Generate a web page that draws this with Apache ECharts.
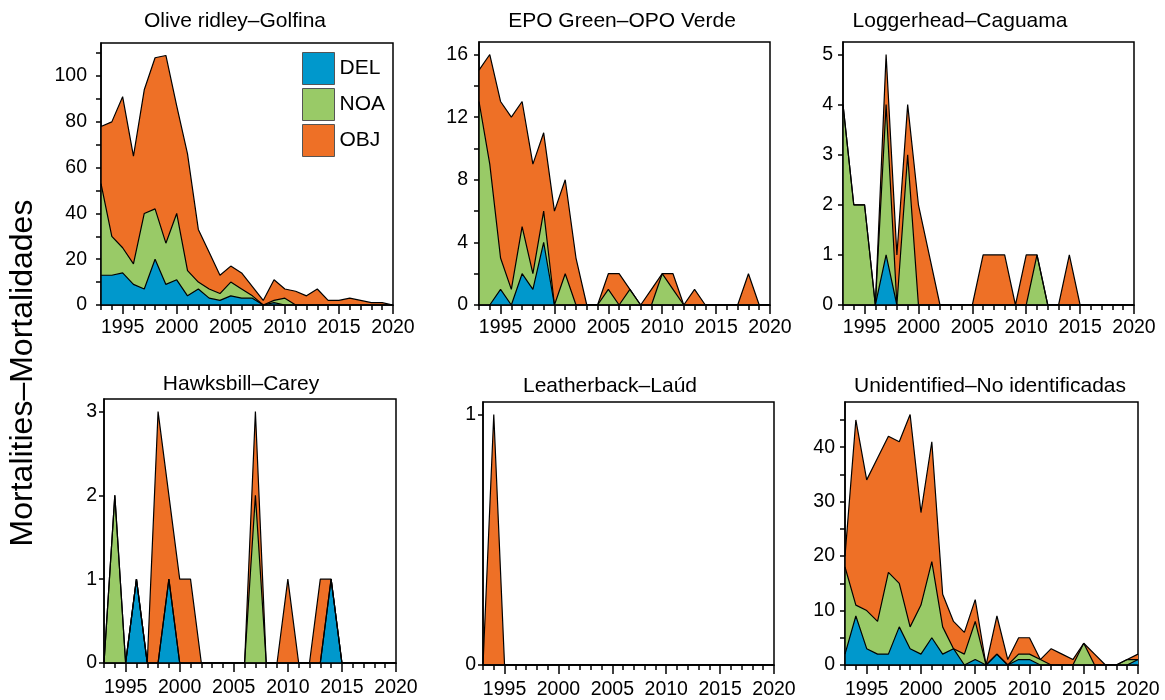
<!DOCTYPE html>
<html>
<head>
<meta charset="utf-8">
<script src="https://cdn.jsdelivr.net/npm/echarts@6/dist/echarts.min.js"></script>
<style>
html, body { margin: 0; padding: 0; background: #fff; }
#main { width: 1165px; height: 700px; }
</style>
</head>
<body>
<div id="main"></div>
<script>
// years on the x axis
var years = [1993, 1994, 1995, 1996, 1997, 1998, 1999, 2000, 2001, 2002, 2003, 2004, 2005, 2006,
             2007, 2008, 2009, 2010, 2011, 2012, 2013, 2014, 2015, 2016, 2017, 2018, 2019, 2020];
var yearLabels = [1995, 2000, 2005, 2010, 2015, 2020];

// Olive ridley - Golfina
var oliveDEL = [13, 13, 14, 9, 7, 20, 9, 11, 4, 7, 3, 2, 4, 3, 3, 0, 1, 0, 0, 0, 0, 0, 0, 0, 0, 0, 0, 0];
var oliveNOA = [40, 17, 11, 9, 33, 22, 18, 29, 11, 3, 4, 3, 6, 4, 1, 0, 1, 3, 0, 0, 0, 0, 0, 0, 0, 0, 0, 0];
var oliveOBJ = [25, 50, 66, 47, 54, 66, 82, 47, 51, 23, 16, 8, 7, 7, 4, 2, 9, 4, 6, 4, 7, 2, 2, 3, 2, 1, 1, 0];
var oliveTicks = [0, 10, 20, 30, 40, 50, 60, 70, 80, 90, 100, 110];
var oliveLabels = [0, 20, 40, 60, 80, 100];

// EPO Green - OPO Verde
var greenDEL = [0, 0, 1, 0, 2, 1, 4, 0, 0, 0, 0, 0, 0, 0, 0, 0, 0, 0, 0, 0, 0, 0, 0, 0, 0, 0, 0, 0];
var greenNOA = [13, 9, 2, 1, 3, 1, 2, 0, 2, 0, 0, 0, 1, 0, 1, 0, 0, 2, 1, 0, 0, 0, 0, 0, 0, 0, 0, 0];
var greenOBJ = [2, 7, 10, 11, 8, 7, 5, 6, 6, 3, 0, 0, 1, 2, 0, 0, 1, 0, 1, 0, 1, 0, 0, 0, 0, 2, 0, 0];
var greenTicks = [0, 2, 4, 6, 8, 10, 12, 14, 16];
var greenLabels = [0, 4, 8, 12, 16];

// Loggerhead - Caguama
var loggerDEL = [0, 0, 0, 0, 1, 0, 0, 0, 0, 0, 0, 0, 0, 0, 0, 0, 0, 0, 0, 0, 0, 0, 0, 0, 0, 0, 0, 0];
var loggerNOA = [4, 2, 2, 0, 3, 0, 3, 0, 0, 0, 0, 0, 0, 0, 0, 0, 0, 0, 1, 0, 0, 0, 0, 0, 0, 0, 0, 0];
var loggerOBJ = [0, 0, 0, 0, 1, 1, 1, 2, 1, 0, 0, 0, 0, 1, 1, 1, 0, 1, 0, 0, 0, 1, 0, 0, 0, 0, 0, 0];
var loggerTicks = [0, 1, 2, 3, 4, 5];
var loggerLabels = [0, 1, 2, 3, 4, 5];

// Hawksbill - Carey
var hawkDEL = [0, 0, 0, 1, 0, 0, 1, 0, 0, 0, 0, 0, 0, 0, 0, 0, 0, 0, 0, 0, 0, 1, 0, 0, 0, 0, 0, 0];
var hawkNOA = [0, 2, 0, 0, 0, 0, 0, 0, 0, 0, 0, 0, 0, 0, 2, 0, 0, 0, 0, 0, 0, 0, 0, 0, 0, 0, 0, 0];
var hawkOBJ = [0, 0, 0, 0, 0, 3, 1, 1, 1, 0, 0, 0, 0, 0, 1, 0, 0, 1, 0, 0, 1, 0, 0, 0, 0, 0, 0, 0];
var hawkTicks = [0, 1, 2, 3];
var hawkLabels = [0, 1, 2, 3];

// Leatherback - Laúd
var leatherDEL = [0, 0, 0, 0, 0, 0, 0, 0, 0, 0, 0, 0, 0, 0, 0, 0, 0, 0, 0, 0, 0, 0, 0, 0, 0, 0, 0, 0];
var leatherNOA = [0, 0, 0, 0, 0, 0, 0, 0, 0, 0, 0, 0, 0, 0, 0, 0, 0, 0, 0, 0, 0, 0, 0, 0, 0, 0, 0, 0];
var leatherOBJ = [0, 1, 0, 0, 0, 0, 0, 0, 0, 0, 0, 0, 0, 0, 0, 0, 0, 0, 0, 0, 0, 0, 0, 0, 0, 0, 0, 0];
var leatherTicks = [0, 1];
var leatherLabels = [0, 1];

// Unidentified - No identificadas
var unidDEL = [2, 9, 3, 2, 2, 7, 3, 2, 5, 2, 3, 0, 1, 0, 2, 0, 1, 1, 0, 0, 0, 0, 0, 0, 0, 0, 0, 1];
var unidNOA = [16, 2, 7, 6, 15, 8, 4, 9, 14, 5, 0, 2, 7, 0, 0, 0, 1, 1, 1, 0, 0, 0, 4, 0, 0, 0, 1, 0];
var unidOBJ = [2, 34, 24, 30, 25, 26, 39, 17, 22, 6, 5, 4, 4, 0, 7, 1, 3, 3, 0, 3, 2, 1, 0, 2, 0, 0, 0, 1];
var unidTicks = [0, 5, 10, 15, 20, 25, 30, 35, 40, 45];
var unidLabels = [0, 10, 20, 30, 40];

var gearNames = ['DEL', 'NOA', 'OBJ'];
var gearColors = ['#0098cc', '#99ca67', '#ee7026'];
var FONT = '"Liberation Sans", Arial, sans-serif';

var panels = [
    { title: 'Olive ridley\u2013Golfina', del: oliveDEL, noa: oliveNOA, obj: oliveOBJ, ticks: oliveTicks, labels: oliveLabels,
      grid: [101, 43, 292, 262], tx: 235, ty: 11, margin: 14 },
    { title: 'EPO Green\u2013OPO Verde', del: greenDEL, noa: greenNOA, obj: greenOBJ, ticks: greenTicks, labels: greenLabels,
      grid: [479, 42, 291, 263], tx: 622, ty: 11, margin: 11 },
    { title: 'Loggerhead\u2013Caguama', del: loggerDEL, noa: loggerNOA, obj: loggerOBJ, ticks: loggerTicks, labels: loggerLabels,
      grid: [843, 42, 291, 263], tx: 960, ty: 11, margin: 10 },
    { title: 'Hawksbill\u2013Carey', del: hawkDEL, noa: hawkNOA, obj: hawkOBJ, ticks: hawkTicks, labels: hawkLabels,
      grid: [104, 399, 292, 264], tx: 241, ty: 374, margin: 7 },
    { title: 'Leatherback\u2013La\u00fad', del: leatherDEL, noa: leatherNOA, obj: leatherOBJ, ticks: leatherTicks, labels: leatherLabels,
      grid: [483, 402, 291, 264], tx: 610, ty: 376, margin: 7 },
    { title: 'Unidentified\u2013No identificadas', del: unidDEL, noa: unidNOA, obj: unidOBJ, ticks: unidTicks, labels: unidLabels,
      grid: [845, 402, 293, 263], tx: 990, ty: 376, margin: 10 }
];

function plain(v) { return String(v); }

var grids = [], xAxes = [], yAxes = [], series = [], titles = [];

panels.forEach(function (p, i) {
    grids.push({
        left: p.grid[0], top: p.grid[1], width: p.grid[2], height: p.grid[3],
        show: true, borderColor: '#000', borderWidth: 1.5, backgroundColor: 'transparent'
    });
    // year axis: short tick every year, labels every 5
    xAxes.push({
        type: 'value', gridIndex: i, min: 1993, max: 2020, position: 'bottom', z: 10,
        axisLine: { show: true, lineStyle: { color: '#000', width: 1.5 } },
        axisTick: { show: true, length: 5, customValues: years, lineStyle: { color: '#000', width: 1.5 } },
        axisLabel: { customValues: yearLabels, formatter: plain, margin: i < 3 ? 13 : 15,
                     color: '#000', fontSize: 19.5, fontFamily: FONT },
        splitLine: { show: false }
    });
    // longer ticks at the labelled years
    xAxes.push({
        type: 'value', gridIndex: i, min: 1993, max: 2020, position: 'bottom', z: 10,
        axisLine: { show: false },
        axisTick: { show: true, length: 9, customValues: yearLabels, lineStyle: { color: '#000', width: 1.5 } },
        axisLabel: { show: false },
        splitLine: { show: false }
    });

    // stacked layers: DEL at the bottom, then NOA, then OBJ on top
    var layer1 = [], layer2 = [], layer3 = [];
    var maxTotal = 0;
    years.forEach(function (y, k) {
        var a = p.del[k], b = a + p.noa[k], c = b + p.obj[k];
        layer1.push([y, a]);
        layer2.push([y, b]);
        layer3.push([y, c]);
        maxTotal = Math.max(maxTotal, c);
    });
    yAxes.push({
        type: 'value', gridIndex: i, min: 0, max: maxTotal * 1.05, z: 10,
        axisLine: { show: true, lineStyle: { color: '#000', width: 1.5 } },
        axisTick: { show: true, length: 5, customValues: p.ticks, lineStyle: { color: '#000', width: 1.5 } },
        axisLabel: { customValues: p.labels, formatter: plain, margin: p.margin,
                     color: '#000', fontSize: 19.5, fontFamily: FONT },
        splitLine: { show: false }
    });
    // draw the top layer first so lower layers sit over it
    [[layer3, 2], [layer2, 1], [layer1, 0]].forEach(function (item) {
        var g = item[1];
        series.push({
            name: gearNames[g], type: 'line',
            xAxisIndex: i * 2, yAxisIndex: i,
            data: item[0],
            symbol: 'none', color: gearColors[g],
            itemStyle: { color: gearColors[g] },
            lineStyle: { color: '#000', width: 1.2 },
            areaStyle: { color: gearColors[g], opacity: 1 },
            emphasis: { disabled: true },
            silent: true
        });
    });
    titles.push({
        text: p.title, left: p.tx, top: p.ty, textAlign: 'center', padding: 0,
        textStyle: { fontSize: 21, fontWeight: 'normal', color: '#000', fontFamily: FONT }
    });
});

var chart = echarts.init(document.getElementById('main'), null, { renderer: 'canvas' });
chart.setOption({
    backgroundColor: '#fff',
    animation: false,
    title: titles,
    grid: grids,
    xAxis: xAxes,
    yAxis: yAxes,
    series: series,
    legend: {
        data: gearNames,
        orient: 'vertical',
        left: 302, top: 52,
        padding: 0,
        itemWidth: 32, itemHeight: 32, itemGap: 3,
        icon: 'rect',
        itemStyle: { borderColor: '#555', borderWidth: 1 },
        textStyle: { fontSize: 21, color: '#000', fontFamily: FONT },
        selectedMode: false
    },
    graphic: [{
        type: 'text',
        x: 23, y: 373,
        rotation: Math.PI / 2,
        style: {
            text: 'Mortalities\u2013Mortalidades',
            font: '32px "Liberation Sans", Arial, sans-serif',
            fill: '#000',
            align: 'center',
            verticalAlign: 'middle'
        }
    }]
});
</script>
</body>
</html>
